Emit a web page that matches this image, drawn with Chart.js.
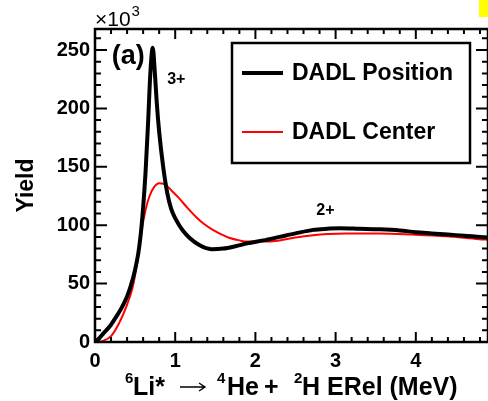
<!DOCTYPE html>
<html>
<head>
<meta charset="utf-8">
<script src="https://cdn.jsdelivr.net/npm/chart.js@4.4.1/dist/chart.umd.min.js"></script>
<style>
  html, body { margin: 0; padding: 0; background: #fff; }
</style>
</head>
<body>
<canvas id="chart" width="488" height="401"></canvas>
<script>
// yields in units of 10^3, energies in MeV
const posX = [0, 0.05, 0.1, 0.18, 0.25, 0.33, 0.4, 0.45, 0.5, 0.54, 0.57, 0.6, 0.63, 0.66, 0.69, 0.72, 0.745, 0.77, 0.8, 0.85, 0.9, 0.95, 1.0, 1.05, 1.1, 1.18, 1.3, 1.45, 1.6, 1.75, 1.9, 2.1, 2.3, 2.5, 2.72, 2.9, 3.05, 3.3, 3.55, 3.8, 4.0, 4.2, 4.4, 4.6, 4.8, 4.9];
const posY = [0, 3, 7, 13, 20, 29, 39, 49, 62, 76, 92, 115, 145, 185, 230, 252, 232, 205, 180, 150, 128, 114, 106, 100, 95, 89, 83, 79.5, 80, 82, 84.5, 87, 90, 93, 96, 97, 97.5, 97, 96.5, 95.5, 94, 93, 92, 91, 90, 89.5];

const cenX = [0, 0.1, 0.2, 0.3, 0.4, 0.47, 0.53, 0.58, 0.63, 0.68, 0.74, 0.8, 0.87, 0.95, 1.05, 1.15, 1.26, 1.36, 1.47, 1.58, 1.68, 1.8, 1.9, 2.1, 2.3, 2.5, 2.72, 2.9, 3.13, 3.55, 3.96, 4.38, 4.79, 4.9];
const cenY = [0, 1, 5, 16, 32, 47, 70, 95, 113, 125, 133, 136, 135, 130, 123, 115, 107, 101, 96, 92, 89, 87, 86, 86, 87, 89.5, 91.5, 92.5, 93, 93, 92, 90.5, 88, 87.5];

const seriesNames = ['DADL Position', 'DADL Center'];
const xTicks = [0, 1, 2, 3, 4];
const yTicks = [0, 50, 100, 150, 200, 250];

const FONT = '"Liberation Sans", Arial, sans-serif';
Chart.defaults.font.family = FONT;

const decor = {
  id: 'decor',
  afterDatasetsDraw(chart) {
    const { ctx, chartArea: a, scales: { x, y } } = chart;
    ctx.save();
    ctx.strokeStyle = '#000';
    ctx.fillStyle = '#000';

    // inward ticks on all four sides
    ctx.lineWidth = 2;
    ctx.beginPath();
    for (let i = 0; i <= 24; i++) {
      const px = x.getPixelForValue(i * 0.2);
      const len = i % 5 === 0 ? 10 : 5;
      ctx.moveTo(px, a.bottom); ctx.lineTo(px, a.bottom - len);
      ctx.moveTo(px, a.top); ctx.lineTo(px, a.top + len);
    }
    for (let v = 0; v <= 260; v += 10) {
      const py = y.getPixelForValue(v);
      const len = v % 50 === 0 ? 12 : 6;
      ctx.moveTo(a.left, py); ctx.lineTo(a.left + len, py);
      ctx.moveTo(a.right, py); ctx.lineTo(a.right - len, py);
    }
    ctx.stroke();

    // frame
    ctx.lineWidth = 2.5;
    ctx.strokeRect(a.left, a.top, a.right - a.left, a.bottom - a.top);

    // exponent label
    ctx.textAlign = 'left';
    ctx.textBaseline = 'alphabetic';
    ctx.font = '21px ' + FONT;
    ctx.fillText('\u00d710', a.left, a.top - 3);
    const w10 = ctx.measureText('\u00d710').width;
    ctx.font = '15px ' + FONT;
    ctx.fillText('3', a.left + w10 + 1, a.top - 13);

    // y title
    ctx.save();
    ctx.translate(27, (a.top + a.bottom) / 2);
    ctx.rotate(-Math.PI / 2);
    ctx.textAlign = 'center';
    ctx.textBaseline = 'middle';
    ctx.font = 'bold 23px ' + FONT;
    ctx.fillText('Yield', 0, 0);
    ctx.restore();

    // x title with superscripts, segments laid out left to right
    const base = 395;
    const main = 'bold 25px ' + FONT;
    const sup = 'bold 15px ' + FONT;
    const parts = [
      { t: '6', f: sup, x: 125, dy: -12 },
      { t: 'Li*', f: main, x: 133, dy: 0 },
      { t: '4', f: sup, x: 217, dy: -12 },
      { t: 'He', f: main, x: 227, dy: 0 },
      { t: '+', f: main, x: 264, dy: 0 },
      { t: '2', f: sup, x: 294, dy: -12 },
      { t: 'H ERel (MeV)', f: main, x: 302, dy: 0 }
    ];
    parts.forEach(p => {
      ctx.font = p.f;
      ctx.fillText(p.t, p.x, base + p.dy);
    });
    // the "\u2192" of the reaction, drawn as a long thin arrow
    ctx.lineWidth = 1.4;
    ctx.beginPath();
    ctx.moveTo(180, base - 8); ctx.lineTo(205, base - 8);
    ctx.moveTo(199, base - 12); ctx.lineTo(205, base - 8); ctx.lineTo(199, base - 4);
    ctx.stroke();

    // panel label and state labels
    ctx.font = 'bold 27px ' + FONT;
    ctx.textBaseline = 'middle';
    ctx.fillText('(a)', x.getPixelForValue(0.21), y.getPixelForValue(244));
    ctx.font = 'bold 16px ' + FONT;
    ctx.textBaseline = 'alphabetic';
    ctx.fillText('3+', x.getPixelForValue(0.9), y.getPixelForValue(221));
    ctx.fillText('2+', x.getPixelForValue(2.76), y.getPixelForValue(108.5));

    // legend box
    ctx.lineWidth = 2.5;
    ctx.strokeRect(232, 43, 238, 120);
    const rows = [{ c: '#000', w: 4, yy: 73 }, { c: '#ff0000', w: 2, yy: 132 }];
    rows.forEach((r, i) => {
      ctx.strokeStyle = r.c;
      ctx.lineWidth = r.w;
      ctx.beginPath();
      ctx.moveTo(242, r.yy); ctx.lineTo(283, r.yy);
      ctx.stroke();
      ctx.fillStyle = '#000';
      ctx.font = 'bold 23px ' + FONT;
      ctx.textBaseline = 'middle';
      ctx.fillText(seriesNames[i], 292, r.yy + 1);
    });

    // yellow marker in the corner
    ctx.fillStyle = '#ffff00';
    ctx.fillRect(479, 0, 9, 17);
    ctx.restore();
  }
};

const ctx = document.getElementById('chart').getContext('2d');
const chart = new Chart(ctx, {
  type: 'line',
  data: {
    datasets: [
      {
        label: seriesNames[0],
        data: posX.map((v, i) => ({ x: v, y: posY[i] })),
        borderColor: '#000',
        borderWidth: 4,
        pointRadius: 0,
        cubicInterpolationMode: 'monotone',
        fill: false
      },
      {
        label: seriesNames[1],
        data: cenX.map((v, i) => ({ x: v, y: cenY[i] })),
        borderColor: '#ff0000',
        borderWidth: 2,
        pointRadius: 0,
        cubicInterpolationMode: 'monotone',
        fill: false
      }
    ]
  },
  options: {
    responsive: false,
    animation: false,
    layout: { padding: { top: 29, left: 0, right: 0, bottom: 0 } },
    plugins: { legend: { display: false }, tooltip: { enabled: false } },
    scales: {
      x: {
        type: 'linear',
        min: 0,
        max: 4.9,
        grid: { display: false, drawTicks: false },
        border: { display: false },
        afterBuildTicks: s => { s.ticks = xTicks.map(v => ({ value: v })); },
        ticks: {
          padding: 7,
          color: '#000',
          font: { size: 20, weight: 'bold' },
          maxRotation: 0,
          autoSkip: false,
          callback: v => String(v)
        },
        afterFit: s => { s.height = 59; s.paddingLeft = 0; s.paddingRight = 0; }
      },
      y: {
        min: 0,
        max: 268,
        grid: { display: false, drawTicks: false },
        border: { display: false },
        afterBuildTicks: s => { s.ticks = yTicks.map(v => ({ value: v })); },
        ticks: {
          padding: 5,
          color: '#000',
          font: { size: 20, weight: 'bold' },
          autoSkip: false,
          callback: v => String(v)
        },
        afterFit: s => { s.width = 95; s.paddingTop = 0; s.paddingBottom = 0; }
      }
    }
  },
  plugins: [decor]
});
</script>
</body>
</html>
